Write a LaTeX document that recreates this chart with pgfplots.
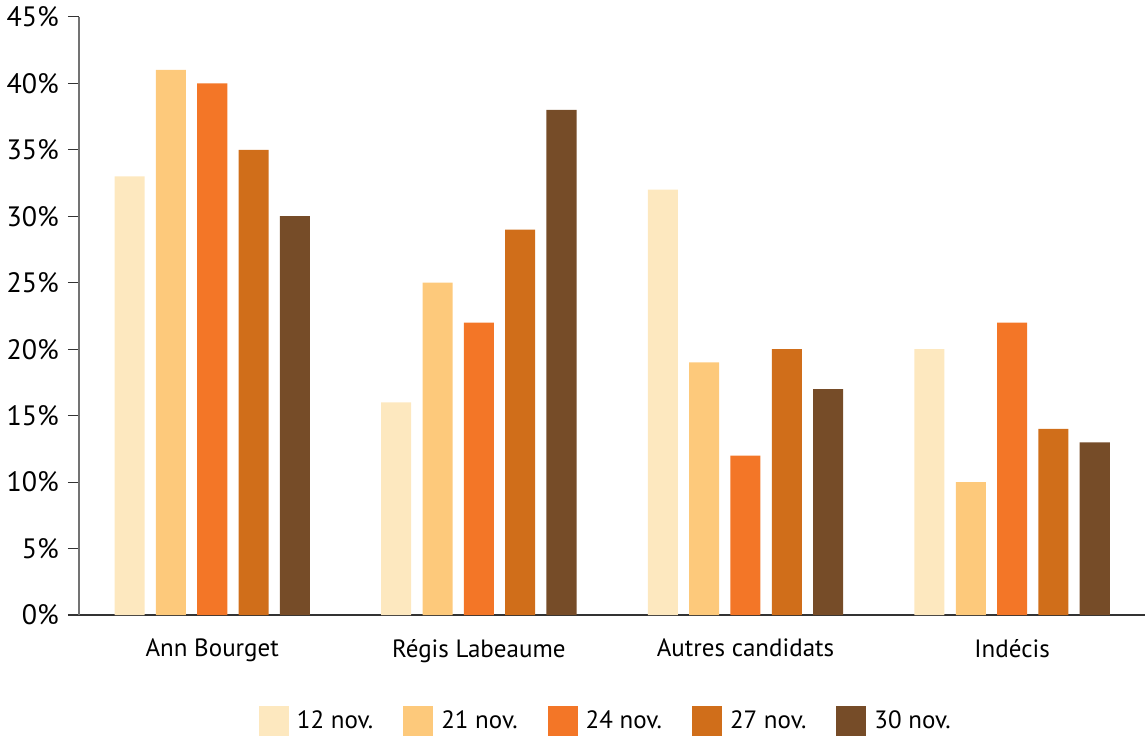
\documentclass[border=0pt]{standalone}
\usepackage{pgfplots}
\pgfplotsset{compat=1.18}
\usepackage{fontspec}
\setmainfont{PT Sans}

\definecolor{nov12}{HTML}{FDE8BF}
\definecolor{nov21}{HTML}{FDC97B}
\definecolor{nov24}{HTML}{F37627}
\definecolor{nov27}{HTML}{D06E1A}
\definecolor{nov30}{HTML}{764C28}

\begin{document}
\begin{tikzpicture}
\begin{axis}[
	scale only axis,
	width=533pt, height=299pt,
	ybar=5.65pt, bar width=15pt,
	xmin=-0.5, xmax=3.5,
	ymin=0, ymax=45,
	axis x line*=bottom, axis y line*=left,
	x axis line style={black!80, line width=0.6pt},
	y axis line style={black!55, line width=0.8pt},
	xtick={0,1,2,3},
	xticklabels={Ann Bourget, Régis Labeaume, Autres candidats, Indécis},
	x tick style={draw=none},
	minor xtick={-0.5,0.5,1.5,2.5},
	minor x tick style={black!80, line width=0.6pt},
	minor tick length=6pt,
	ytick={0,5,...,45},
	y tick style={black!80, line width=0.6pt},
	major tick length=5.5pt,
	tick align=outside,
	yticklabel={\pgfmathprintnumber{\tick}\%},
	/pgf/number format/assume math mode=true,
	tick label style={font=\fontsize{12.5}{15}\selectfont},
	xticklabel style={yshift=-3pt},
	yticklabel style={xshift=-1pt, font=\fontsize{14}{16}\selectfont},
	legend style={
		at={(axis description cs:0.495,-0.145)}, anchor=north,
		draw=none, legend columns=5,
		font=\fontsize{12.5}{15}\selectfont,
		/tikz/every odd column/.append style={column sep=2pt},
		/tikz/every even column/.append style={column sep=13pt},
	},
	legend image code/.code={\fill[#1] (0pt,-7.5pt) rectangle (15pt,7.5pt);},
	every axis plot/.append style={draw=none},
]
\addplot[fill=nov12] coordinates {(0,33) (1,16) (2,32) (3,20)};
\addplot[fill=nov21] coordinates {(0,41) (1,25) (2,19) (3,10)};
\addplot[fill=nov24] coordinates {(0,40) (1,22) (2,12) (3,22)};
\addplot[fill=nov27] coordinates {(0,35) (1,29) (2,20) (3,14)};
\addplot[fill=nov30] coordinates {(0,30) (1,38) (2,17) (3,13)};
\legend{12 nov., 21 nov., 24 nov., 27 nov., 30 nov.}
\end{axis}
\end{tikzpicture}
\end{document}
